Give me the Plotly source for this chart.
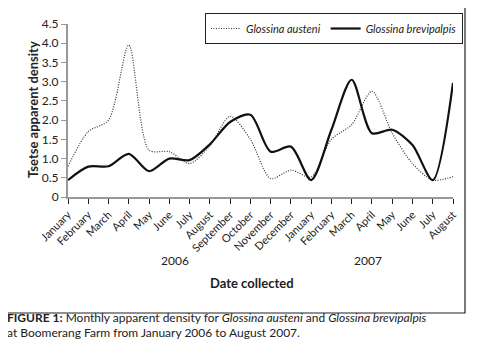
import plotly.graph_objects as go

months = ["January", "February", "March", "April", "May", "June", "July", "August",
          "September", "October", "November", "December",
          "January", "February", "March", "April", "May", "June", "July", "August"]
austeni = [0.8, 1.7, 2.0, 3.95, 1.22, 1.18, 0.87, 1.33, 2.1, 1.5, 0.48, 0.7,
           0.52, 1.5, 1.88, 2.75, 1.66, 0.87, 0.44, 0.53]
brevipalpis = [0.44, 0.79, 0.8, 1.12, 0.67, 1.0, 0.96, 1.37, 1.95, 2.14, 1.18, 1.31,
               0.44, 1.75, 3.05, 1.66, 1.75, 1.35, 0.44, 2.97]
y_ticks = [0, 0.5, 1.0, 1.5, 2.0, 2.5, 3.0, 3.5, 4.0, 4.5]
y_ticktext = ["0", "0.5", "1.0", "1.5", "2.0", "2.5", "3.0", "3.5", "4.0", "4.5"]
years = ["2006", "2007"]

FONT = "Lato, 'Open Sans', sans-serif"
xs = list(range(len(months)))

OFF = 8  # page body margin
fig = go.Figure()
fig.add_trace(go.Scatter(
    x=xs, y=austeni, mode="lines", name="<i>Glossina austeni</i>",
    line=dict(color="#333333", width=1.2, dash="1px,1.5px", shape="spline", smoothing=0.8)))
fig.add_trace(go.Scatter(
    x=xs, y=brevipalpis, mode="lines", name="<i>Glossina brevipalpis</i>",
    line=dict(color="#111111", width=2.2, shape="spline", smoothing=0.8)))

W, H = 479 - OFF, 356 - OFF
L, T = 68 - OFF, 24 - OFF
R = W - (453 - OFF)
B = H - (197 - OFF)
pw, ph = W - L - R, H - T - B

def px(x):
    return (x - OFF - L) / pw

def py(y):
    return (H - B - (y - OFF)) / ph

fig.update_layout(
    width=W, height=H,
    margin=dict(l=L, r=R, t=T, b=B, autoexpand=False),
    paper_bgcolor="white", plot_bgcolor="white",
    font=dict(family=FONT, color="#222222", size=11),
    showlegend=True,
    legend=dict(orientation="h", x=px(205), y=py(13), xanchor="left", yanchor="top",
                bordercolor="#222222", borderwidth=1, bgcolor="white",
                font=dict(size=11, family=FONT), itemwidth=30,
                tracegroupgap=0),
    xaxis=dict(range=[0, 19], tickvals=xs, ticktext=months, tickangle=-45,
               showgrid=False, zeroline=False, showline=True, linecolor="#999999",
               linewidth=2, ticks="outside", tickcolor="#222222", ticklen=5,
               tickfont=dict(size=11, family=FONT), automargin=False),
    yaxis=dict(range=[0, 4.5], tickvals=y_ticks, ticktext=y_ticktext,
               showgrid=False, zeroline=False, showline=True, linecolor="#999999",
               linewidth=2, ticks="outside", tickcolor="#999999", ticklen=5,
               tickfont=dict(size=12, family=FONT), automargin=False),
)

# outer frame
fig.add_shape(type="rect", xref="paper", yref="paper",
              x0=px(5), x1=px(465), y0=py(313), y1=py(7),
              line=dict(color="#222222", width=1.2), fillcolor="rgba(0,0,0,0)")

# year labels
fig.add_annotation(text=years[0], xref="x", yref="paper", x=5.3, y=py(270),
                   showarrow=False, font=dict(size=12, family=FONT))
fig.add_annotation(text=years[1], xref="x", yref="paper", x=14.8, y=py(270),
                   showarrow=False, font=dict(size=12, family=FONT))
# axis titles
fig.add_annotation(text="<b>Date collected</b>", xref="paper", yref="paper",
                   x=px(252), y=py(293), showarrow=False, font=dict(size=13, family=FONT))
fig.add_annotation(text="<b>Tsetse apparent density</b>", xref="paper", yref="paper",
                   x=px(23), y=py(110), showarrow=False, textangle=-90,
                   font=dict(size=13, family=FONT))
# caption
fig.add_annotation(text="<b>FIGURE 1:</b> Monthly apparent density for <i>Glossina austeni</i> and <i>Glossina brevipalpis</i>",
                   xref="paper", yref="paper", x=px(5), y=py(327), xanchor="left",
                   showarrow=False, font=dict(size=12, family=FONT))
fig.add_annotation(text="at Boomerang Farm from January 2006 to August 2007.",
                   xref="paper", yref="paper", x=px(5), y=py(342), xanchor="left",
                   showarrow=False, font=dict(size=12, family=FONT))

fig.write_html("out.html")
